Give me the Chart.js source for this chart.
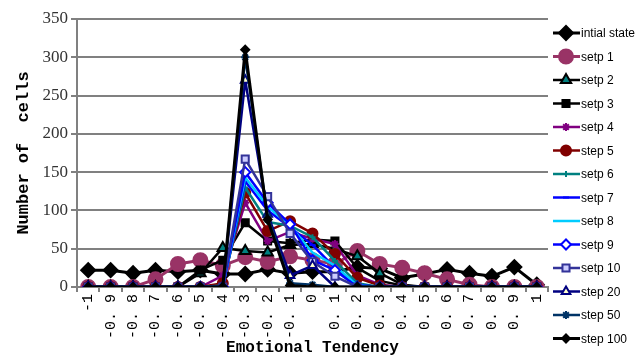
<!DOCTYPE html>
<html>
<head>
<meta charset="utf-8">
<script src="https://cdn.jsdelivr.net/npm/chart.js@4.4.1/dist/chart.umd.min.js"></script>
<style>
  html, body { margin: 0; padding: 0; background: #fff; }
  canvas { display: block; }
</style>
</head>
<body>
<canvas id="chart" width="644" height="360"></canvas>
<script>
const categories = ["-1", "-0. 9", "-0. 8", "-0. 7", "-0. 6", "-0. 5", "-0. 4", "-0. 3", "-0. 2", "-0. 1", "0",
  "0. 1", "0. 2", "0. 3", "0. 4", "0. 5", "0. 6", "0. 7", "0. 8", "0. 9", "1"];

const seriesNames = ["intial state", "setp 1", "setp 2", "setp 3", "setp 4", "step 5", "setp 6",
  "setp 7", "setp 8", "setp 9", "setp 10", "step 20", "step 50", "step 100"];

const initialState = [22, 22, 18, 22, 20, 22, 17, 17, 23, 18, 20, 20, 26, 24, 12, 17, 23, 18, 14, 26, 3];
const step1 = [0, 0, 0, 10, 30, 35, 28, 39, 33, 40, 35, 30, 47, 30, 25, 18, 10, 3, 0, 0, 0];
const step2 = [0, 0, 0, 0, 0, 18, 51, 47, 45, 55, 56, 50, 40, 18, 3, 0, 0, 0, 0, 0, 0];
const step3 = [0, 0, 0, 0, 0, 22, 35, 84, 60, 57, 62, 60, 25, 8, 2, 0, 0, 0, 0, 0, 0];
const step4 = [0, 0, 0, 0, 0, 0, 15, 110, 60, 72, 63, 56, 15, 3, 0, 0, 0, 0, 0, 0, 0];
const step5 = [0, 0, 0, 0, 0, 0, 5, 123, 73, 86, 70, 43, 12, 2, 0, 0, 0, 0, 0, 0, 0];
const step6 = [0, 0, 0, 0, 0, 0, 2, 130, 85, 80, 65, 34, 5, 0, 0, 0, 0, 0, 0, 0, 0];
const step7 = [0, 0, 0, 0, 0, 0, 0, 138, 100, 78, 55, 25, 3, 0, 0, 0, 0, 0, 0, 0, 0];
const step8 = [0, 0, 0, 0, 0, 0, 0, 143, 105, 80, 45, 28, 2, 0, 0, 0, 0, 0, 0, 0, 0];
const step9 = [0, 0, 0, 0, 0, 0, 0, 150, 110, 82, 35, 22, 0, 0, 0, 0, 0, 0, 0, 0, 0];
const step10 = [0, 0, 0, 0, 0, 0, 0, 167, 118, 70, 33, 14, 0, 0, 0, 0, 0, 0, 0, 0, 0];
const step20 = [0, 0, 0, 0, 0, 0, 0, 270, 95, 15, 28, 0, 0, 0, 0, 0, 0, 0, 0, 0, 0];
const step50 = [0, 0, 0, 0, 0, 0, 0, 300, 92, 5, 3, 0, 0, 0, 0, 0, 0, 0, 0, 0, 0];
const step100 = [0, 0, 0, 0, 0, 0, 0, 310, 88, 2, 0, 0, 0, 0, 0, 0, 0, 0, 0, 0, 0];

const yTicks = [0, 50, 100, 150, 200, 250, 300, 350];

// line colour, marker style, marker fill, marker border, radius, line width
const styles = [
  ["#000000", "rectRot", "#000000", "#000000", 7, 3],
  ["#993366", "circle", "#993366", "#993366", 7, 3],
  ["#000000", "triangle", "#008080", "#000000", 6, 2.5],
  ["#000000", "rect", "#000000", "#000000", 5, 2.5],
  ["#800080", "star", "#800080", "#800080", 4, 2.5],
  ["#800000", "circle", "#800000", "#800000", 5, 2.5],
  ["#008080", "cross", "#008080", "#008080", 3, 2.5],
  ["#0000ff", "line", "#0000ff", "#0000ff", 3, 2.5],
  ["#00ccff", "circle", "#00ccff", "#00ccff", 0, 2.5],
  ["#0000ff", "rectRot", "#ffffff", "#0000ff", 5, 2.5],
  ["#333399", "rect", "#ccccff", "#333399", 5, 2.5],
  ["#000080", "triangle", "#ffffcc", "#000080", 5, 2.5],
  ["#003366", "star", "#003366", "#003366", 4, 2.5],
  ["#000000", "rectRot", "#000000", "#000000", 4, 3],
];

const seriesData = [initialState, step1, step2, step3, step4, step5, step6,
  step7, step8, step9, step10, step20, step50, step100];

const datasets = seriesData.map((data, i) => {
  const [color, pointStyle, fill, border, radius, width] = styles[i];
  return {
    label: seriesNames[i],
    data,
    borderColor: color,
    borderWidth: width,
    borderJoinStyle: "round",
    pointStyle,
    pointBackgroundColor: fill,
    pointBorderColor: border,
    pointBorderWidth: 2,
    pointRadius: radius,
    tension: 0,
    fill: false,
    order: seriesData.length - i,
  };
});

// Legend drawn on the right, line + marker like the original
const sideLegend = {
  id: "sideLegend",
  afterDraw(chart) {
    const { ctx } = chart;
    ctx.save();
    ctx.font = "12px 'Liberation Sans', Arial, sans-serif";
    ctx.textBaseline = "middle";
    chart.data.datasets.forEach((ds, i) => {
      const y = 33 + i * 23.5;
      ctx.beginPath();
      ctx.strokeStyle = ds.borderColor;
      ctx.lineWidth = ds.borderWidth;
      ctx.moveTo(553, y);
      ctx.lineTo(580, y);
      ctx.stroke();
      if (ds.pointRadius > 0) {
        ctx.fillStyle = ds.pointBackgroundColor;
        ctx.strokeStyle = ds.pointBorderColor;
        ctx.lineWidth = 2;
        Chart.helpers.drawPoint(ctx, { pointStyle: ds.pointStyle, radius: ds.pointRadius, rotation: 0, borderWidth: 2 }, 566, y);
      }
      ctx.fillStyle = "#000";
      ctx.fillText(ds.label, 581, y + 1);
    });
    ctx.restore();
  },
};

new Chart(document.getElementById("chart"), {
  type: "line",
  data: { labels: categories, datasets },
  plugins: [sideLegend],
  options: {
    responsive: false,
    animation: false,
    layout: { padding: { left: 14, right: 96, top: 19, bottom: 0 } },
    scales: {
      x: {
        offset: true,
        grid: {
          offset: true,
          drawOnChartArea: false,
          drawTicks: true,
          tickLength: 5,
          color: "#808080",
          lineWidth: 2,
        },
        border: { color: "#808080", width: 2 },
        ticks: {
          color: "#000",
          font: { family: "'Liberation Mono', monospace", size: 15 },
          minRotation: 90,
          maxRotation: 90,
          autoSkip: false,
          padding: 2,
        },
        title: {
          display: true,
          text: "Emotional Tendency",
          color: "#000",
          font: { family: "'Liberation Mono', monospace", size: 16, weight: "bold" },
          padding: { top: 0, bottom: 2 },
        },
        afterFit(scale) { scale.height = 73; },
      },
      y: {
        min: 0,
        max: 350,
        afterBuildTicks(scale) { scale.ticks = yTicks.map((v) => ({ value: v })); },
        grid: { color: "#808080", lineWidth: 2, tickLength: 6 },
        border: { color: "#808080", width: 2 },
        ticks: {
          color: "#333",
          font: { family: "'Liberation Serif', serif", size: 17 },
          padding: 3,
        },
        title: {
          display: true,
          text: "Number of  cells",
          color: "#000",
          font: { family: "'Liberation Mono', monospace", size: 17, weight: "bold" },
          padding: { top: 0, bottom: 2 },
        },
        afterFit(scale) { scale.width = 63; },
      },
    },
    plugins: {
      legend: { display: false },
      tooltip: { enabled: false },
    },
  },
});
</script>
</body>
</html>
